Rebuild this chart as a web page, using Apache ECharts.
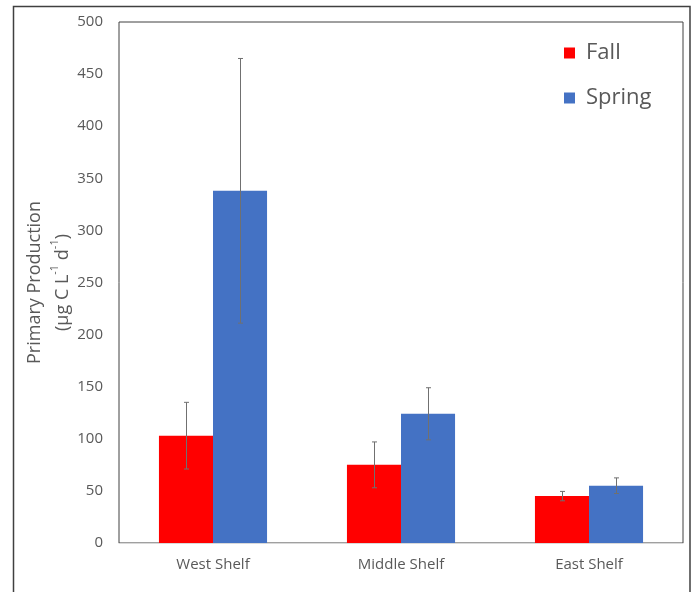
<!DOCTYPE html>
<html>
<head>
<meta charset="utf-8">
<script src="https://cdn.jsdelivr.net/npm/echarts@6/dist/echarts.min.js"></script>
<style>
html,body{margin:0;padding:0;background:#fff;}
#chart{width:693px;height:592px;}
</style>
</head>
<body>
<div id="chart"></div>
<script>
var categories = ['West Shelf', 'Middle Shelf', 'East Shelf'];
var fallValues = [103, 75, 45];
var springValues = [338, 124, 55];
var fallErrors = [32, 22, 4.5];
var springErrors = [127, 25, 7.5];
var yTicks = {min: 0, max: 500, interval: 50};

var CAT_GAP = 0.425;
var FONT = '"Open Sans", "DejaVu Sans", sans-serif';

function errorSeries(name, values, errors, side) {
  var data = values.map(function (v, i) { return [i, v - errors[i], v + errors[i]]; });
  return {
    type: 'custom',
    name: name + ' error',
    z: 10,
    silent: true,
    data: data,
    encode: {x: 0, y: [1, 2]},
    renderItem: function (params, api) {
      var idx = api.value(0);
      var lo = api.coord([idx, api.value(1)]);
      var hi = api.coord([idx, api.value(2)]);
      var band = api.size([1, 0])[0];
      var bw = band * (1 - CAT_GAP) / 2;
      var x = Math.round(lo[0] + side * bw / 2) + 0.5;
      var cap = 2.5;
      var st = {stroke: '#707070', lineWidth: 1};
      return {
        type: 'group',
        children: [
          {type: 'line', shape: {x1: x, y1: hi[1], x2: x, y2: lo[1]}, style: st},
          {type: 'line', shape: {x1: x - cap, y1: hi[1], x2: x + cap, y2: hi[1]}, style: st},
          {type: 'line', shape: {x1: x - cap, y1: lo[1], x2: x + cap, y2: lo[1]}, style: st}
        ]
      };
    }
  };
}

var chart = echarts.init(document.getElementById('chart'), null, {renderer: 'canvas'});
chart.setOption({
  animation: false,
  backgroundColor: '#fff',
  textStyle: {fontFamily: FONT},
  graphic: [{
    type: 'rect',
    shape: {x: 13.5, y: 6.5, width: 676.5, height: 620},
    style: {fill: 'none', stroke: '#404040', lineWidth: 1.5},
    silent: true
  }],
  grid: {left: 119, right: 10, top: 22, bottom: 49, show: true, borderColor: '#404040', borderWidth: 1, backgroundColor: 'transparent'},
  legend: {
    orient: 'vertical',
    left: 559,
    top: 35,
    itemWidth: 11,
    itemHeight: 11,
    itemGap: 19,
    icon: 'rect',
    data: ['Fall', 'Spring'],
    textStyle: {fontFamily: FONT, fontSize: 22, color: '#595959', lineHeight: 26, padding: [0, 0, 0, 6]}
  },
  xAxis: {
    type: 'category',
    data: categories,
    axisLine: {show: true, lineStyle: {color: '#d9d9d9', width: 1}},
    axisTick: {show: false},
    axisLabel: {color: '#595959', fontSize: 15, margin: 14, fontFamily: FONT},
    z: 5
  },
  yAxis: {
    type: 'value',
    min: yTicks.min,
    max: yTicks.max,
    interval: yTicks.interval,
    splitLine: {show: false},
    axisLine: {show: false},
    axisTick: {show: false},
    axisLabel: {color: '#595959', fontSize: 15, margin: 16, fontFamily: FONT},
    name: '{m|Primary Production}\n{m|(µg C L}{s|-1}{m| d}{s|-1}{m|)}',
    nameLocation: 'middle',
    nameGap: 42,
    nameMoveOverlap: false,
    nameRotate: 90,
    nameTextStyle: {
      color: '#595959',
      rich: {
        m: {fontSize: 18, fontFamily: FONT, color: '#595959', lineHeight: 28},
        s: {fontSize: 11, fontFamily: FONT, color: '#595959', verticalAlign: 'top', lineHeight: 20}
      }
    }
  },
  series: [
    {name: 'Fall', type: 'bar', data: fallValues, barGap: '0%', barCategoryGap: (CAT_GAP * 100) + '%', itemStyle: {color: '#ff0000'}},
    {name: 'Spring', type: 'bar', data: springValues, barGap: '0%', barCategoryGap: (CAT_GAP * 100) + '%', itemStyle: {color: '#4472c4'}},
    errorSeries('Fall', fallValues, fallErrors, -1),
    errorSeries('Spring', springValues, springErrors, 1)
  ]
});
</script>
</body>
</html>
